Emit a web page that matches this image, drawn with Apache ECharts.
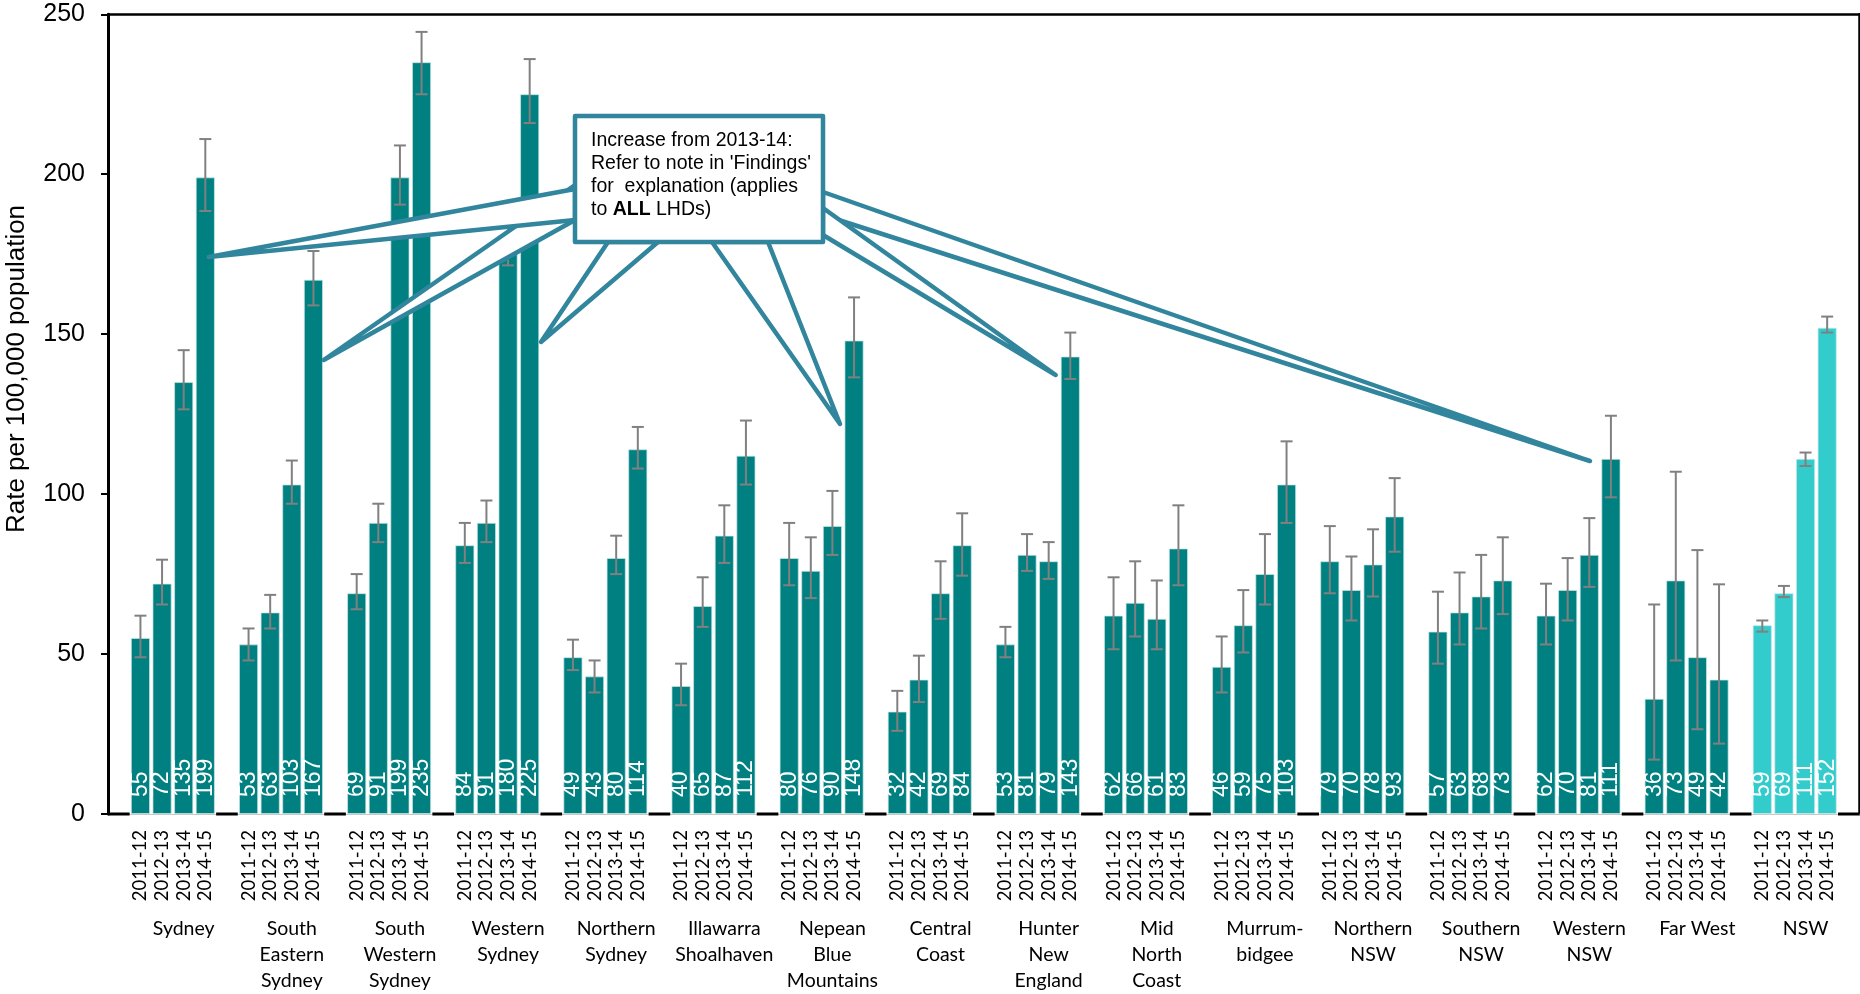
<!DOCTYPE html>
<html>
<head>
<meta charset="utf-8">
<script src="https://cdn.jsdelivr.net/npm/echarts@6/dist/echarts.min.js"></script>
<style>
  html, body { margin: 0; padding: 0; background: #fff; }
  #chart { width: 1860px; height: 994px; }
</style>
</head>
<body>
<div id="chart"></div>
<script>
// Local health districts (plus the state total) and financial years
const districts = [
  'Sydney', 'South\nEastern\nSydney', 'South\nWestern\nSydney', 'Western\nSydney',
  'Northern\nSydney', 'Illawarra\nShoalhaven', 'Nepean\nBlue\nMountains', 'Central\nCoast',
  'Hunter\nNew\nEngland', 'Mid\nNorth\nCoast', 'Murrum-\nbidgee', 'Northern\nNSW',
  'Southern\nNSW', 'Western\nNSW', 'Far West', 'NSW'
];
const years = ['2011-12', '2012-13', '2013-14', '2014-15'];

// Rate per 100,000 population, one array per year (district order as above)
const rate2011 = [55, 53, 69, 84, 49, 40, 80, 32, 53, 62, 46, 79, 57, 62, 36, 59];
const rate2012 = [72, 63, 91, 91, 43, 65, 76, 42, 81, 66, 59, 70, 63, 70, 73, 69];
const rate2013 = [135, 103, 199, 180, 80, 87, 90, 69, 79, 61, 75, 78, 68, 81, 49, 111];
const rate2014 = [199, 167, 235, 225, 114, 112, 148, 84, 143, 83, 103, 93, 73, 111, 42, 152];

// 95% confidence interval bounds
const lower2011 = [49, 48, 64, 78.5, 45, 34, 71.5, 26, 49, 51.5, 38, 69, 47, 53, 17, 57];
const upper2011 = [62, 58, 75, 91, 54.5, 47, 91, 38.5, 58.5, 74, 55.5, 90, 69.5, 72, 65.5, 60.5];
const lower2012 = [65.5, 58, 85, 85, 38, 58.5, 67.5, 35, 76, 55.5, 50.5, 60.5, 53, 60.5, 48, 67.8];
const upper2012 = [79.5, 68.5, 97, 98, 48, 74, 86.5, 49.5, 87.5, 79, 70, 80.5, 75.5, 80, 107, 71.3];
const lower2013 = [126.5, 97, 190.5, 171.5, 75, 78.5, 81, 61, 73.5, 51.5, 65.5, 68, 58, 71, 26.5, 108.8];
const upper2013 = [145, 110.5, 209, 189, 87, 96.5, 101, 79, 85, 73, 87.5, 89, 81, 92.5, 82.5, 113];
const lower2014 = [188.5, 159, 225, 216, 108, 103, 136.5, 74.5, 136, 71.5, 91, 82, 62.5, 99, 22, 150.5];
const upper2014 = [211, 176, 244.5, 236, 121, 123, 161.5, 94, 150.5, 96.5, 116.5, 105, 86.5, 124.5, 71.8, 155.5];

// Value axis range
const yMax = 250;
const yStep = 50;

const stateName = 'NSW';
const districtColor = '#008080';
const stateColor = '#33CCCC';
const calloutColor = '#31859C';

const rates = [rate2011, rate2012, rate2013, rate2014];
const lowers = [lower2011, lower2012, lower2013, lower2014];
const uppers = [upper2011, upper2012, upper2013, upper2014];

// Category slots: one empty slot before each district group, four year slots, one trailing empty slot
const slotLabels = [];
const groupLabels = [];
const barData = [];
const errData = [];
const gapSlots = [];
function addGap() {
  gapSlots.push([slotLabels.length, 0]);
  slotLabels.push('');
  groupLabels.push('');
  barData.push(null);
}
districts.forEach((name, g) => {
  addGap();
  years.forEach((yr, k) => {
    const idx = slotLabels.length;
    slotLabels.push(yr);
    groupLabels.push(k === 2 ? name : '');
    barData.push({
      value: rates[k][g],
      itemStyle: { color: name === stateName ? stateColor : districtColor }
    });
    errData.push([idx, lowers[k][g], uppers[k][g]]);
  });
});
addGap();

const chart = echarts.init(document.getElementById('chart'), null, { renderer: 'canvas' });

const arial = 'Liberation Sans, Arial, sans-serif';
const calibriLike = 'Lato, Open Sans, sans-serif';

// Callout box and its pointers (annotation drawn in screen space)
const box = { x: 575, y: 116, w: 248, h: 126 };
const pointers = [
  [[575, 185], [323.7, 360], [575, 220]],
  [[575, 189], [208.7, 257], [575, 220]],
  [[608, 242], [541, 342], [658, 242]],
  [[712, 242], [840, 424], [768, 242]],
  [[823, 192], [1590, 461], [823, 215]],
  [[823, 208], [1055.7, 375], [823, 235]]
];
const calloutStyle = { fill: '#fff', stroke: calloutColor, lineWidth: 4.5, lineJoin: 'round', lineCap: 'round' };
const graphics = pointers.map((pts, i) => ({
  type: 'polygon', z: 20 + i, silent: true,
  shape: { points: pts }, style: calloutStyle
}));
graphics.push({
  type: 'rect', z: 40, silent: true,
  shape: { x: box.x, y: box.y, width: box.w, height: box.h },
  style: calloutStyle
});
graphics.push({
  type: 'text', z: 41, silent: true, x: 591, y: 128.5,
  style: {
    text: "Increase from 2013-14:\nRefer to note in 'Findings'\nfor  explanation (applies\nto {b|ALL} LHDs)",
    fill: '#000', fontFamily: arial, fontSize: 19.5, lineHeight: 23.3,
    align: 'left', verticalAlign: 'top',
    rich: { b: { fontWeight: 'bold', fontFamily: arial, fontSize: 19.5, fill: '#000', lineHeight: 23.3 } }
  }
});
graphics.push({
  type: 'text', z: 41, silent: true, x: 17, y: 369, rotation: Math.PI / 2,
  style: {
    text: 'Rate per 100,000 population', fill: '#000',
    fontFamily: arial, fontSize: 26, align: 'center', verticalAlign: 'middle'
  }
});

const option = {
  animation: false,
  backgroundColor: '#fff',
  grid: { left: 108, right: 0.4, top: 14.3, bottom: 178.3, containLabel: false },
  xAxis: [
    {
      type: 'category', data: slotLabels, position: 'bottom',
      axisLine: { show: true, lineStyle: { color: '#c8c8c8', width: 1 } },
      axisTick: { show: false },
      axisLabel: {
        interval: 0, rotate: 90, margin: 16, color: '#000',
        fontFamily: calibriLike, fontSize: 18.5
      }
    },
    {
      type: 'category', data: groupLabels, position: 'bottom',
      axisLine: { show: false }, axisTick: { show: false },
      axisLabel: {
        interval: 0, margin: 102, color: '#000', lineHeight: 26,
        fontFamily: calibriLike, fontSize: 19.5, verticalAlign: 'top'
      }
    },
    {
      type: 'category', data: slotLabels, position: 'top',
      axisLine: { show: true, lineStyle: { color: '#000', width: 2.5 } },
      axisTick: { show: false }, axisLabel: { show: false }
    }
  ],
  yAxis: [
    {
      type: 'value', min: 0, max: yMax, interval: yStep,
      axisLine: { show: true, lineStyle: { color: '#000', width: 3 } },
      axisTick: { show: true, inside: false, length: 7, lineStyle: { color: '#000', width: 2 } },
      axisLabel: { margin: 23, color: '#000', fontFamily: arial, fontSize: 25 },
      splitLine: { show: false }
    },
    {
      type: 'value', min: 0, max: yMax, interval: yStep, position: 'right',
      axisLine: { show: true, lineStyle: { color: '#000', width: 2.5 } },
      axisTick: { show: false }, axisLabel: { show: false }, splitLine: { show: false }
    }
  ],
  series: [
    {
      type: 'bar', data: barData, barWidth: 19, z: 2,
      itemStyle: { borderColor: 'rgba(200,230,230,0.9)', borderWidth: 0.8 },
      label: {
        show: true, position: 'insideBottom', rotate: 90, distance: 17,
        align: 'left', verticalAlign: 'middle',
        color: '#fff', fontFamily: arial, fontSize: 23,
        formatter: p => String(p.value)
      }
    },
    {
      type: 'custom', data: errData, encode: { x: 0, y: [1, 2] }, z: 3,
      renderItem(params, api) {
        const x = api.value(0);
        const lo = api.coord([x, api.value(1)]);
        const hi = api.coord([x, api.value(2)]);
        const half = 6;
        const style = { stroke: '#808080', lineWidth: 2 };
        return {
          type: 'group', children: [
            { type: 'line', shape: { x1: lo[0], y1: lo[1], x2: hi[0], y2: hi[1] }, style },
            { type: 'line', shape: { x1: lo[0] - half, y1: lo[1], x2: lo[0] + half, y2: lo[1] }, style },
            { type: 'line', shape: { x1: hi[0] - half, y1: hi[1], x2: hi[0] + half, y2: hi[1] }, style }
          ]
        };
      }
    },
    {
      // black baseline segments in the empty slots between groups
      type: 'custom', data: gapSlots, encode: { x: 0, y: 1 }, z: 3,
      renderItem(params, api) {
        const c = api.coord([api.value(0), 0]);
        const w = api.size([1, 0])[0];
        return {
          type: 'line',
          shape: { x1: c[0] - w / 2, y1: c[1], x2: c[0] + w / 2, y2: c[1] },
          style: { stroke: '#000', lineWidth: 3 }
        };
      }
    }
  ],
  graphic: graphics
};

chart.setOption(option);
</script>
</body>
</html>
